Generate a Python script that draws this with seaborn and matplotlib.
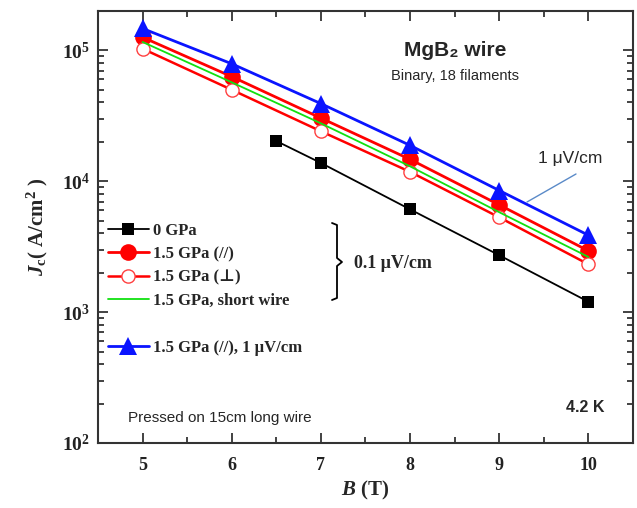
import math
import matplotlib
matplotlib.use("Agg")
import matplotlib.pyplot as plt
import seaborn as sns
from matplotlib.lines import Line2D
from matplotlib.ticker import FuncFormatter, LogLocator, MultipleLocator
from matplotlib.font_manager import FontProperties

# B field (T)
b_main = [5, 6, 7, 8, 9, 10]
b_zero = [6.5, 7, 8, 9, 10]

# Jc values (A/cm^2)
jc_0gpa = [2.03e4, 1.38e4, 6.1e3, 2.72e3, 1.2e3]
jc_par = [1.26e5, 6.3e4, 3.04e4, 1.47e4, 6.6e3, 2.94e3]
jc_perp = [1.03e5, 5.0e4, 2.41e4, 1.18e4, 5.3e3, 2.32e3]
jc_short = [1.16e5, 5.7e4, 2.77e4, 1.30e4, 5.8e3, 2.64e3]
jc_par_1uv = [1.47e5, 7.9e4, 3.92e4, 1.88e4, 8.5e3, 3.87e3]

labels = ["0 GPa", "1.5 GPa (//)", "1.5 GPa (\u22a5)", "1.5 GPa, short wire",
          "1.5 GPa (//), 1 \u03bcV/cm"]

sns.set_style("ticks")
plt.rcParams["mathtext.fontset"] = "custom"
plt.rcParams["mathtext.rm"] = "Liberation Serif:bold"
plt.rcParams["mathtext.bf"] = "Liberation Serif:bold"
plt.rcParams["mathtext.it"] = "Liberation Serif:italic:bold"
plt.rcParams["font.family"] = ["Liberation Serif", "DejaVu Serif"]

fig = plt.figure(figsize=(6.37, 5.08), dpi=100)
ax = fig.add_axes([98 / 637, 1 - 443 / 508, 535 / 637, 432 / 508])

red = "#ff0000"
blue = "#0a14ff"
green = "#10e010"

sns.lineplot(x=b_zero, y=jc_0gpa, ax=ax, color="black", lw=1.3, marker="s",
             markersize=8, markeredgewidth=0, label=labels[0], legend=False)
sns.lineplot(x=b_main, y=jc_par, ax=ax, color=red, lw=2.0, marker="o",
             markersize=12, markeredgewidth=0, label=labels[1], legend=False)
sns.lineplot(x=b_main, y=jc_perp, ax=ax, color=red, lw=1.8, marker="o",
             markersize=9.5, markerfacecolor="white", markeredgecolor="#ff4040",
             markeredgewidth=1.0, label=labels[2], legend=False)
sns.lineplot(x=b_main, y=jc_par_1uv, ax=ax, color=blue, lw=2.0, marker="^",
             markersize=12.5, markeredgewidth=0, label=labels[4], legend=False)
sns.lineplot(x=b_main, y=jc_short, ax=ax, color=green, lw=1.3,
             label=labels[3], legend=False)

ax.set_yscale("log")
ax.set_xlim(4.5, 10.5)
ax.set_ylim(100, 2e5)

ax.xaxis.set_major_locator(MultipleLocator(1))
ax.xaxis.set_minor_locator(MultipleLocator(0.5))
ax.yaxis.set_major_locator(LogLocator(base=10))
ax.yaxis.set_minor_locator(LogLocator(base=10, subs=range(2, 10)))
ax.yaxis.set_major_formatter(FuncFormatter(lambda v, p: r"$\mathbf{10^{%d}}$" % round(math.log10(v))))
ax.tick_params(which="both", direction="in", top=True, right=True, width=1.2, colors="#222222")
ax.tick_params(which="major", length=7)
ax.tick_params(which="minor", length=4)
ax.tick_params(axis="x", labelsize=13, pad=10)
ax.tick_params(axis="y", labelsize=14, pad=6)
for lab in ax.get_xticklabels():
    lab.set_fontweight("bold")
for sp in ax.spines.values():
    sp.set_linewidth(1.5)
    sp.set_color("#333333")
ax.grid(False)

ax.set_xlabel(r"$\mathit{B}$ (T)", fontsize=15, fontweight="bold", labelpad=4)
ax.set_ylabel(r"$\mathit{J}_\mathbf{c}$( A/cm$^\mathbf{2}$ )", fontsize=15,
              fontweight="bold", labelpad=8)

# legend with a blank row before the 1 uV/cm entry
hand = {h.get_label(): h for h in ax.get_lines()}
blank = Line2D([], [], linestyle="none", label=" ")
order = [hand[labels[0]], hand[labels[1]], hand[labels[2]], hand[labels[3]], blank, hand[labels[4]]]
leg_font = FontProperties(family=["Liberation Serif", "DejaVu Serif"], weight="bold", size=12)
ax.legend(handles=order, loc="upper left", bbox_to_anchor=(0.018, 0.51), frameon=False,
          prop=leg_font, handlelength=2.5, handletextpad=0.2, labelspacing=0.45,
          borderpad=0, borderaxespad=0)


def fx(px):
    return (px - 98) / 535


def fy(py):
    return (443 - py) / 432


# bracket for the 0.1 uV/cm group
ax.plot([fx(332), fx(337), fx(337), fx(342), fx(337), fx(337), fx(332)],
        [fy(223), fy(225), fy(258), fy(262), fy(266), fy(298), fy(300)],
        transform=ax.transAxes, color="black", lw=1.3, clip_on=False)
ax.text(fx(354), fy(263), "0.1 \u03bcV/cm", transform=ax.transAxes, fontsize=13,
        fontweight="bold", va="center", ha="left")

sans = ["Liberation Sans", "DejaVu Sans"]
ax.text(fx(455), fy(50), "MgB\u2082 wire", transform=ax.transAxes, fontsize=15,
        fontweight="bold", family=sans, ha="center", va="center")
ax.text(fx(455), fy(76), "Binary, 18 filaments", transform=ax.transAxes, fontsize=10.5,
        family=sans, ha="center", va="center")
ax.text(fx(570), fy(159), "1 \u03bcV/cm", transform=ax.transAxes, fontsize=12.5,
        family=sans, ha="center", va="center")
ax.plot([fx(576), fx(527)], [fy(174), fy(202)], transform=ax.transAxes,
        color="#5a8ac8", lw=1.0)
ax.text(fx(128), fy(418), "Pressed on 15cm long wire", transform=ax.transAxes,
        fontsize=11, family=sans, ha="left", va="center")
ax.text(fx(585), fy(407), "4.2 K", transform=ax.transAxes, fontsize=11.5,
        fontweight="bold", family=sans, ha="center", va="center")

fig.savefig("out.png", dpi=100)
